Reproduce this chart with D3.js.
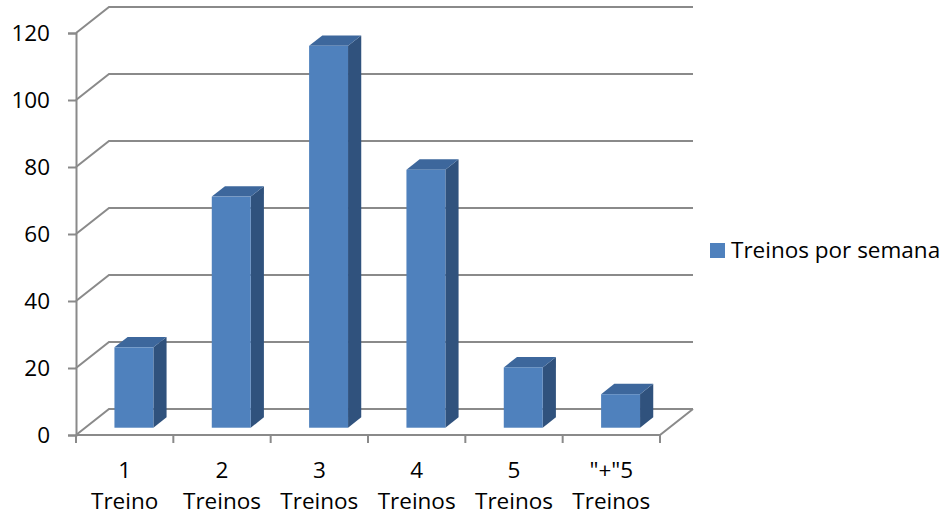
<!DOCTYPE html>
<html>
<head>
<meta charset="utf-8">
<script src="https://cdn.jsdelivr.net/npm/d3@7"></script>
<style>
  html, body { margin: 0; padding: 0; background: #fff; }
  svg text { font-family: "Open Sans", "Liberation Sans", sans-serif; fill: #000; }
</style>
</head>
<body>
<svg id="chart" width="951" height="517"></svg>
<script>
// Weekly training counts
const categoryTop = ["1", "2", "3", "4", "5", "\"+\"5"];
const categoryBottom = ["Treino", "Treinos", "Treinos", "Treinos", "Treinos", "Treinos"];
const values = [24, 69, 114, 77, 18, 10];
const yTicks = [0, 20, 40, 60, 80, 100, 120];
const seriesName = "Treinos por semana";

const svg = d3.select("#chart");
const fontSize = "22.5px";

// Front plane of the plot box and the oblique depth offset
const plotLeft = 76, plotRight = 660, plotBottom = 435, plotTop = 33;
const depthX = 33, depthY = -26;
const proj = (px, py, z) => [px + depthX * z, py + depthY * z];

const x = d3.scaleBand()
  .domain(d3.range(values.length))
  .range([plotLeft, plotRight])
  .paddingInner(0.6)
  .paddingOuter(0.3);
const y = d3.scaleLinear().domain([0, 120]).range([plotBottom, plotTop]);

const grid = svg.append("g")
  .attr("fill", "none")
  .attr("stroke", "#8a8a8a")
  .attr("stroke-width", 2);

// Back-wall gridlines with their side-wall diagonals
yTicks.forEach(v => {
  const [bx, by] = proj(plotLeft, y(v), 1);
  const [ex] = proj(plotRight, y(v), 1);
  grid.append("path").attr("d", `M${plotLeft},${y(v)}L${bx},${by}L${ex},${by}`);
});

// Floor: front edge and right edge
const [frx, fry] = proj(plotRight, plotBottom, 1);
grid.append("path").attr("d", `M${plotLeft},${plotBottom}L${plotRight},${plotBottom}L${frx},${fry}`);

// Category tick marks at the band boundaries
const step = x.step();
d3.range(values.length + 1).forEach(i => {
  const tx = plotLeft + i * step;
  grid.append("line").attr("x1", tx).attr("x2", tx).attr("y1", plotBottom).attr("y2", plotBottom + 8);
});

// Value axis
const yAxis = svg.append("g")
  .attr("transform", `translate(${plotLeft},0)`)
  .call(d3.axisLeft(y).tickValues(yTicks).tickSize(8).tickPadding(18).tickFormat(d3.format("d")));
yAxis.select(".domain").attr("stroke", "#8a8a8a").attr("stroke-width", 2);
yAxis.selectAll(".tick line").attr("stroke", "#8a8a8a").attr("stroke-width", 2);
yAxis.selectAll(".tick text")
  .style("font-size", fontSize)
  .attr("fill", "#000");

// 3D columns
const zFront = 0.28, zBack = 0.68;
const bars = svg.append("g");
values.forEach((v, i) => {
  const x0 = x(i), x1 = x(i) + x.bandwidth();
  const [fx0, fyb] = proj(x0, y(0), zFront);
  const [fx1, fyt] = proj(x1, y(v), zFront);
  const [bx0, byt] = proj(x0, y(v), zBack);
  const [bx1, byb] = proj(x1, y(0), zBack);
  const g = bars.append("g");
  // right side
  g.append("path")
    .attr("d", `M${fx1},${fyt}L${bx1},${byt}L${bx1},${byb}L${fx1},${fyb}Z`)
    .attr("fill", "#30527d");
  // top
  g.append("path")
    .attr("d", `M${fx0},${fyt}L${bx0},${byt}L${bx1},${byt}L${fx1},${fyt}Z`)
    .attr("fill", "#3d679c");
  // front
  g.append("rect")
    .attr("x", fx0).attr("y", fyt)
    .attr("width", fx1 - fx0).attr("height", fyb - fyt)
    .attr("fill", "#4f81bd");
});

// Category labels (two lines each)
const labels = svg.append("g").attr("text-anchor", "middle").style("font-size", fontSize);
categoryTop.forEach((t, i) => {
  const cx = plotLeft + (i + 0.5) * step;
  labels.append("text").attr("x", cx).attr("y", 478).text(t);
  labels.append("text").attr("x", cx).attr("y", 509).text(categoryBottom[i]);
});

// Legend
const legend = svg.append("g");
legend.append("rect").attr("x", 710).attr("y", 243).attr("width", 15).attr("height", 15).attr("fill", "#4f81bd");
legend.append("text").attr("x", 731).attr("y", 258).style("font-size", fontSize).text(seriesName);
</script>
</body>
</html>
